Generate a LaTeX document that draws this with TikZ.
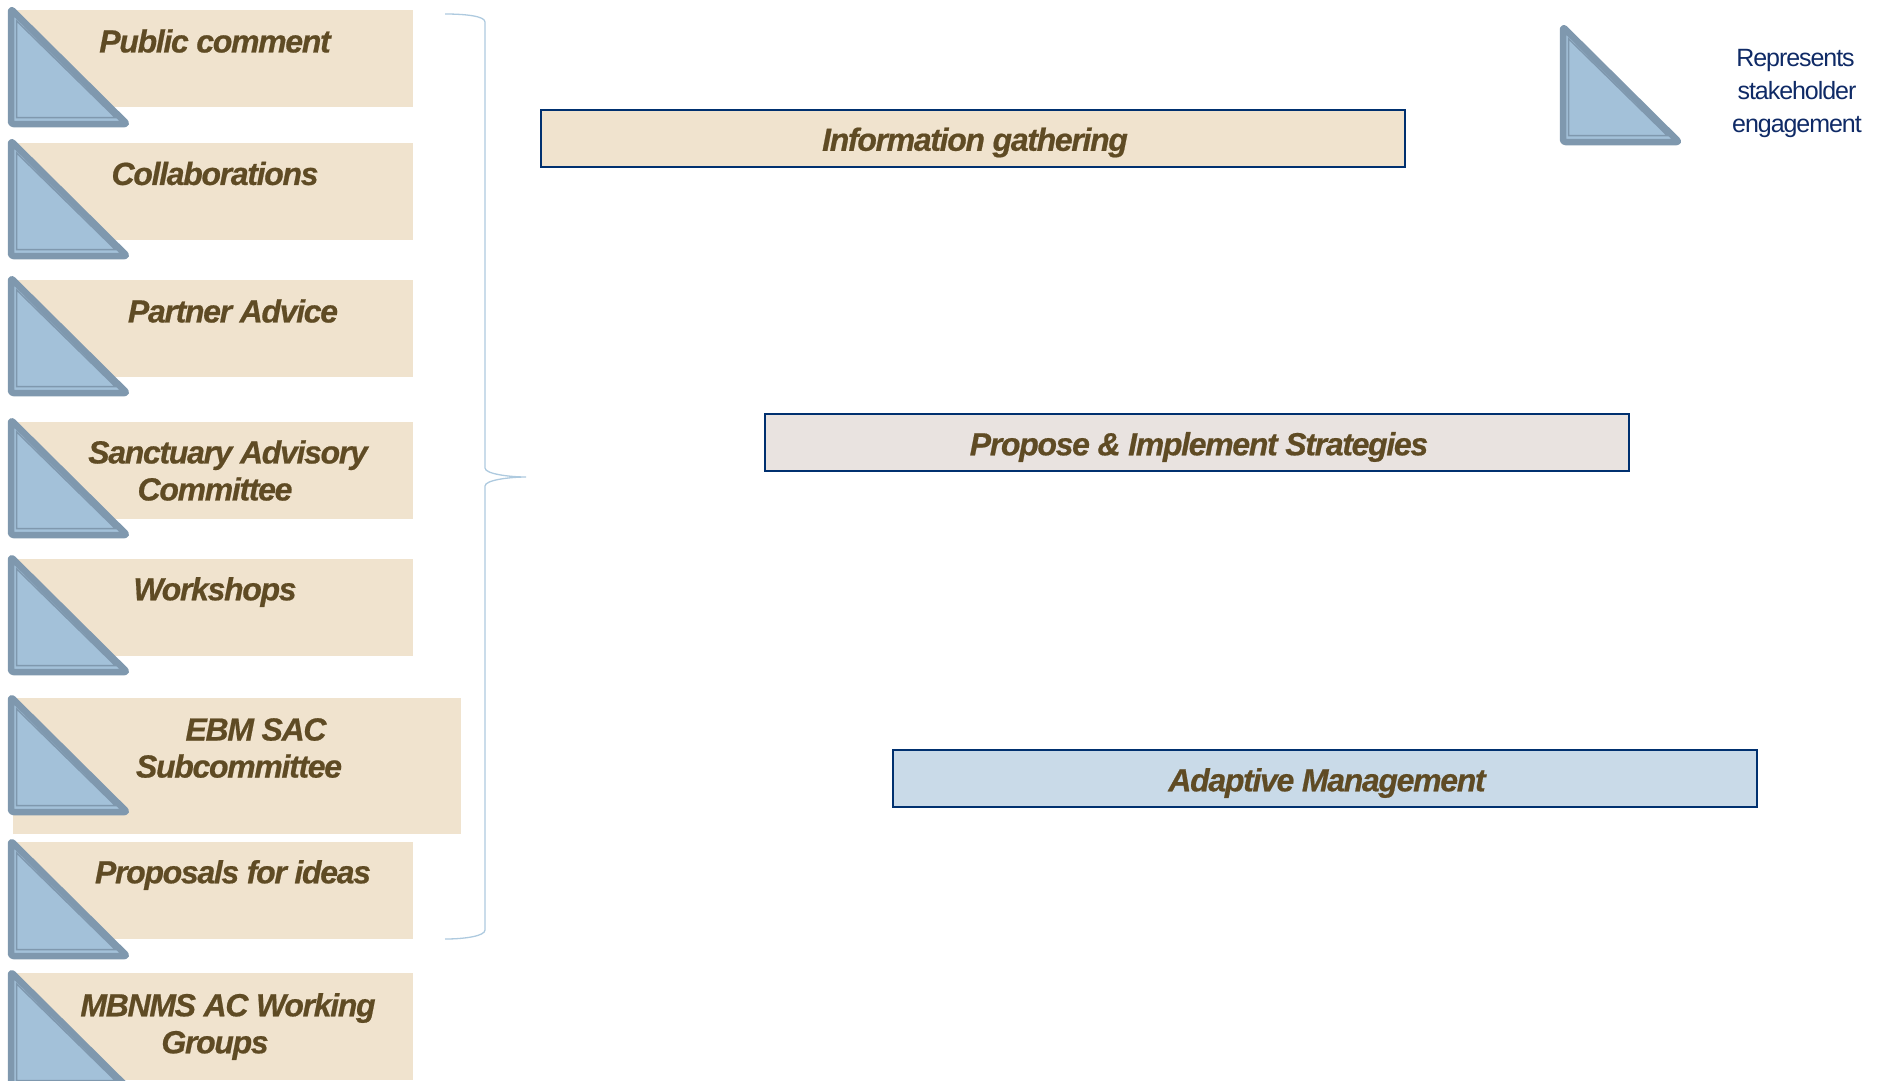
\documentclass[tikz,border=0pt]{standalone}
\usepackage{fontspec}
\setmainfont{Liberation Sans}
\newfontfamily\labfont{Liberation Sans}[LetterSpace=-4.1,FakeBold=0.6]
\newfontfamily\legfont{Liberation Sans}[LetterSpace=-4.2]
\definecolor{beige}{HTML}{F0E3CE}
\definecolor{greyfill}{HTML}{E9E3E0}
\definecolor{bluefill}{HTML}{C9DAE8}
\definecolor{navy}{HTML}{00306F}
\definecolor{brown}{HTML}{5F4B24}
\definecolor{triedge}{HTML}{7F98AE}
\definecolor{trifill}{HTML}{A3C1D9}
\definecolor{brace}{HTML}{AECADF}
\definecolor{legendtext}{HTML}{0F2A66}
\tikzset{
  x=1pt,y=-1pt,
  tribox/.style={fill=beige,draw=none,inner sep=0pt,outer sep=0pt,anchor=north west,minimum width=400pt,minimum height=97pt},
  bar/.style={draw=navy,line width=2pt,inner sep=0pt,anchor=north west,minimum width=864pt,minimum height=57pt},
  lab/.style={text=brown,font=\fontsize{32}{37}\selectfont\labfont\bfseries\itshape,align=center,inner sep=0pt},
  legend/.style={text=legendtext,font=\fontsize{25}{33}\selectfont\legfont,align=center,inner sep=0pt},
  triouter/.style={draw=triedge,fill=trifill,line width=6.5pt,rounded corners=2.5pt,line join=round},
  triinner/.style={draw=triedge,line width=1.5pt},
}
\newcommand{\stake}[2]{%
  \begin{scope}[shift={(#1,#2)}]
    \draw[triouter] (3,3) -- (3,118) -- (119,118) -- cycle;
    \draw[triinner] (8.5,14.7) -- (8.5,111.7) -- (107.5,111.7) -- cycle;
  \end{scope}}
\begin{document}
\begin{tikzpicture}
\useasboundingbox (0,0) rectangle (1885,1080);
\node[tribox] (b1) at (13,10) {};
\node[tribox] (b2) at (13,143) {};
\node[tribox] (b3) at (13,280) {};
\node[tribox] (b4) at (13,422) {};
\node[tribox] (b5) at (13,559) {};
\node[tribox,minimum width=448pt,minimum height=136pt] (b6) at (13,698) {};
\node[tribox] (b7) at (13,842) {};
\node[tribox,minimum height=107pt] (b8) at (13,973) {};
\stake{8}{6}
\stake{8}{138}
\stake{8}{275}
\stake{8}{417}
\stake{8}{554}
\stake{8}{694}
\stake{8}{838}
\stake{8}{969}
\stake{1560}{24}
\node[lab] (t1) at (215,41) {Public comment};
\node[lab] (t2) at (215,173.5) {Collaborations};
\node[lab] (t3) at (233,311) {Partner Advice};
\node[lab] (t4) at (228,470.5) {Sanctuary Advisory\\Committee\hspace*{26pt}};
\node[lab] (t5) at (215,592) {Workshops};
\node[lab] (t6) at (239,748) {\hspace*{34pt}EBM SAC\\Subcommittee};
\node[lab] (t7) at (233,875) {Proposals for ideas};
\node[lab] (t8) at (228,1026.5) {MBNMS AC Working\\Groups\hspace*{26pt}};
\node[bar,fill=beige] (p1) at (540,109) {};
\node[bar,fill=greyfill] (p2) at (764,413) {};
\node[bar,fill=bluefill] (p3) at (892,749) {};
\node[lab] at (975,142.5) (l1) {Information gathering};
\node[lab] at (1199,447) (l2) {Propose \& Implement Strategies};
\node[lab] at (1327,783) (l3) {Adaptive Management};
\node[legend] (leg) at (1797,93) {Represents\hspace*{3pt}\\stakeholder\hspace*{6pt}\\engagement};
\draw[brace,line width=1.3pt] (445,14) .. controls (465,14) and (485,16) .. (485,22)
  -- (485,468) .. controls (485,474) and (510,477) .. (526,477)
  .. controls (510,477) and (485,480) .. (485,486)
  -- (485,930) .. controls (485,936) and (465,939) .. (445,939);
\end{tikzpicture}
\end{document}
